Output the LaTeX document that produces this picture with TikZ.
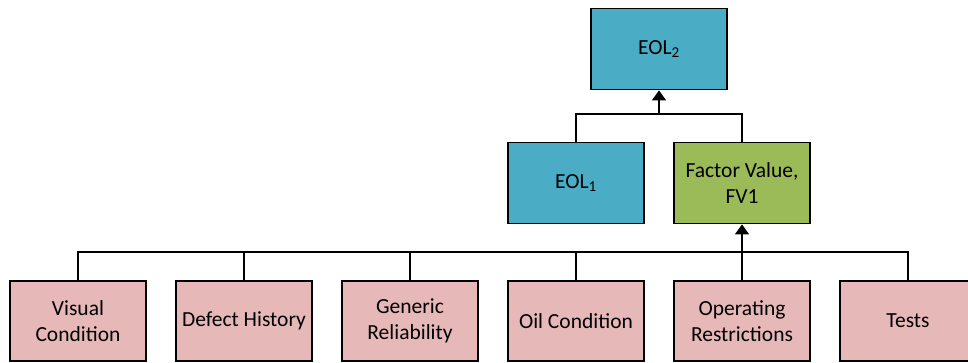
\documentclass[tikz,border=0pt]{standalone}
\usepackage{fontspec}
\setmainfont{Carlito}
\usetikzlibrary{arrows.meta}
\definecolor{eolblue}{HTML}{4BACC6}
\definecolor{fvgreen}{HTML}{9BBB59}
\definecolor{factorpink}{HTML}{E6B9B8}
\begin{document}
\begin{tikzpicture}[x=1pt,y=-1pt,line width=1.4pt]
\tikzstyle{every node}+=[inner sep=0pt,font=\fontsize{21.5}{26}\selectfont,align=center]
\tikzstyle{box}=[draw=black,line width=1.8pt,minimum width=136pt,minimum height=81pt]
\tikzstyle{up}=[-{Triangle[width=14pt,length=10pt]}]
\useasboundingbox (0,0) rectangle (968,363);
% top level
\node [box,fill=eolblue] (eol2) at (659,49) {EOL\textsubscript{2}};
\node [box,fill=eolblue] (eol1) at (576,183) {EOL\textsubscript{1}};
\node [box,fill=fvgreen] (fv) at (742,183) {Factor Value,\\FV1};
\coordinate (topbus) at (659,114);
\draw (eol1.north) |- (topbus) -| (fv.north);
\draw [up] (topbus) -- (eol2.south);
% factors
\coordinate (bus) at (742,252);
\foreach \name/\label [count=\i from 0] in {visual/Visual\\Condition,defect/Defect History,generic/Generic\\Reliability,oil/Oil Condition,operating/Operating\\Restrictions,tests/Tests}
{
  \node [box,fill=factorpink,minimum height=80pt] (\name) at (78+166*\i,321) {\label};
  \draw (\name.north) |- (bus);
}
\draw [up] (bus) -- (fv.south);
\end{tikzpicture}
\end{document}
